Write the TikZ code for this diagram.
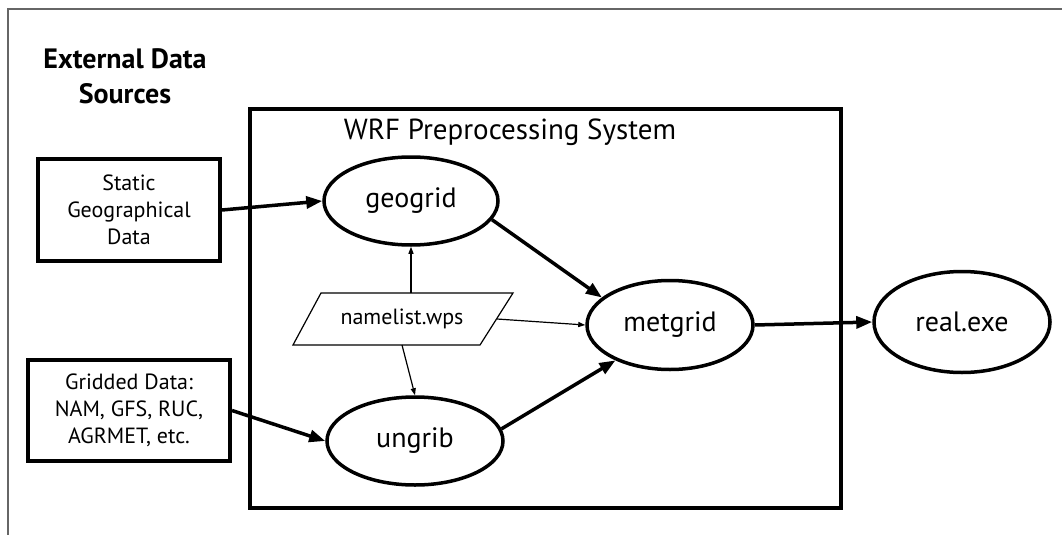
\documentclass[tikz,border=0pt]{standalone}
\usepackage{fontspec}
\setmainfont{PT Sans}
\usetikzlibrary{shapes.geometric,arrows.meta}
\begin{document}
\begin{tikzpicture}[x=1pt,y=-1pt,
  srcbox/.style={draw, line width=4pt, inner sep=0pt, align=center, font=\fontsize{22}{27}\selectfont},
  proc/.style={draw, ellipse, line width=3.5pt, inner sep=0pt, font=\fontsize{28}{30}\selectfont},
  bigarrow/.style={line width=3.5pt, -{Triangle[length=16pt,width=12pt]}},
  smallarrow/.style={line width=1.2pt, -{Triangle[length=7pt,width=5pt]}},
  thinline/.style={line width=1.2pt}
]
\useasboundingbox (0,0) rectangle (1062,535);
\fill[white] (0,0) rectangle (1062,535);
\draw[black!60, line width=1.5pt] (1062,9) -- (8,9) -- (8,535);

\node[align=center, font=\fontsize{28}{35}\selectfont\bfseries] (ext) at (125,76) {External Data\\Sources};

\node[draw, line width=4pt, minimum width=591, minimum height=399, inner sep=0pt] (wps) at (545.5,308.5) {};
\node[font=\fontsize{29}{32}\selectfont] (title) at (510,132) {WRF Preprocessing System};

\node[srcbox, minimum width=182, minimum height=102] (stat) at (129,210) {Static\\Geographical\\Data};
\node[srcbox, minimum width=202, minimum height=101] (grid) at (129,410.5) {Gridded Data:\\NAM, GFS, RUC,\\AGRMET, etc.};

\node[proc, minimum width=174, minimum height=88] (geo) at (411,201) {geogrid};
\node[proc, minimum width=176, minimum height=88] (ung) at (415,441) {ungrib};
\node[proc, minimum width=166, minimum height=89] (met) at (670,325) {metgrid};
\node[proc, minimum width=176, minimum height=101] (real) at (962,322) {real.exe};

\draw[thinline] (321,293) -- (513,293) -- (480,345) -- (293,345) -- cycle;
\node[minimum width=190, minimum height=52, inner sep=0pt, outer sep=0pt, font=\fontsize{22}{24}\selectfont] (nl) at (402,319) {namelist.wps};

\draw[bigarrow] (stat.east) -- (geo.west);
\draw[bigarrow] (grid.east) -- (ung.west);
\draw[bigarrow] (geo.-13) -- (met.158);
\draw[bigarrow] (ung.8) -- (met.213);
\draw[bigarrow] (met.east) -- (real.west);

\draw[smallarrow] (nl.north -| geo.south) -- (geo.south);
\draw[smallarrow] (nl.south) -- (ung.north);
\draw[smallarrow] (nl.east) -- (met.west);
\end{tikzpicture}
\end{document}
